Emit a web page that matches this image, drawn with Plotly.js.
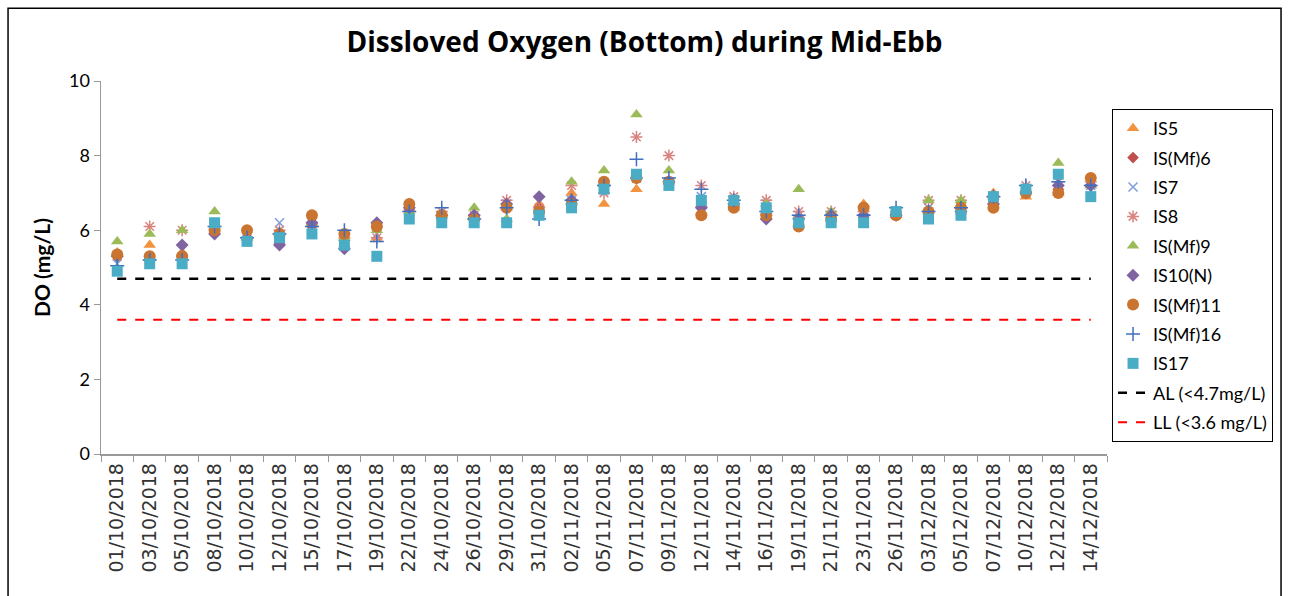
<!DOCTYPE html>
<html>
<head>
<meta charset="utf-8">
<script src="https://cdn.plot.ly/plotly-3.0.1.min.js"></script>
<style>html,body{margin:0;padding:0;background:#fff;}#chart{width:1289px;height:596px;}</style>
</head>
<body>
<div id="chart"></div>
<script>
const dates = ["01/10/2018","03/10/2018","05/10/2018","08/10/2018","10/10/2018","12/10/2018","15/10/2018","17/10/2018","19/10/2018","22/10/2018","24/10/2018","26/10/2018","29/10/2018","31/10/2018","02/11/2018","05/11/2018","07/11/2018","09/11/2018","12/11/2018","14/11/2018","16/11/2018","19/11/2018","21/11/2018","23/11/2018","26/11/2018","03/12/2018","05/12/2018","07/12/2018","10/12/2018","12/12/2018","14/12/2018"];

const IS5     = [5.4,5.6,5.4,6.1,5.8,5.9,6.2,5.8,5.8,6.6,6.4,6.4,6.6,6.7,7.0,6.7,7.1,7.3,6.5,6.6,6.5,6.4,6.3,6.7,6.4,6.5,6.5,7.0,6.9,7.0,7.2];
const ISMf6   = [5.3,5.2,5.3,5.95,5.8,5.65,6.1,5.55,6.1,6.5,6.3,6.35,6.6,6.6,6.8,7.2,7.4,7.3,6.6,6.7,6.3,6.3,6.4,6.4,6.4,6.5,6.5,6.7,7.0,7.1,7.2];
const IS7     = [5.1,5.2,5.2,6.1,5.8,6.2,6.1,5.8,5.9,6.5,6.4,6.3,6.7,6.5,6.8,7.1,7.4,7.3,6.9,6.8,6.7,6.4,6.4,6.4,6.5,6.6,6.6,6.8,7.1,7.3,7.2];
const IS8     = [5.3,6.1,6.0,6.1,5.8,6.0,6.2,5.8,5.8,6.5,6.5,6.4,6.8,6.6,7.2,7.0,8.5,8.0,7.2,6.9,6.8,6.5,6.5,6.5,6.5,6.8,6.8,6.9,7.2,7.3,7.3];
const ISMf9   = [5.7,5.9,6.0,6.5,5.8,5.95,6.2,5.8,6.0,6.5,6.4,6.6,6.3,6.5,7.3,7.6,9.1,7.6,6.7,6.7,6.7,7.1,6.5,6.4,6.5,6.8,6.8,6.9,7.1,7.8,7.2];
const IS10N   = [5.3,5.2,5.6,5.9,5.8,5.6,6.2,5.5,6.2,6.6,6.4,6.4,6.7,6.9,6.8,7.2,7.4,7.3,6.6,6.7,6.3,6.3,6.4,6.4,6.4,6.5,6.5,6.7,7.0,7.2,7.2];
const ISMf11  = [5.35,5.3,5.3,6.0,6.0,5.9,6.4,5.9,6.1,6.7,6.4,6.3,6.6,6.5,6.7,7.3,7.4,7.3,6.4,6.6,6.4,6.1,6.3,6.6,6.4,6.5,6.6,6.6,7.0,7.0,7.4];
const ISMf16  = [5.05,5.2,5.2,6.1,5.8,5.9,6.1,6.0,5.7,6.5,6.6,6.3,6.6,6.3,6.8,7.2,7.9,7.4,7.1,6.8,6.5,6.4,6.4,6.4,6.6,6.5,6.6,6.9,7.2,7.3,7.2];
const IS17    = [4.9,5.1,5.1,6.2,5.7,5.8,5.9,5.6,5.3,6.3,6.2,6.2,6.2,6.4,6.6,7.1,7.5,7.2,6.8,6.8,6.6,6.2,6.2,6.2,6.5,6.3,6.4,6.9,7.1,7.5,6.9];
const AL = dates.map(() => 4.7);
const LL = dates.map(() => 3.6);

const seriesNames = ["IS5","IS(Mf)6","IS7","IS8","IS(Mf)9","IS10(N)","IS(Mf)11","IS(Mf)16","IS17"];
const seriesData = [IS5, ISMf6, IS7, IS8, ISMf9, IS10N, ISMf11, ISMf16, IS17];
const seriesColors = ["#F3923F","#C0504D","#7E9FD6","#D98380","#9BBB59","#8064A2","#C97430","#3F6FBF","#4BACC6"];
const seriesSymbols = ["triangle-up","diamond","x-thin-open","asterisk-open","triangle-up","diamond","circle","cross-thin-open","square"];
const seriesSizes = [11,9,9,10,11,10,12,10,11];

const traces = seriesNames.map((n, i) => ({
  type: "scatter", mode: "markers", name: n, x: dates, y: seriesData[i],
  legendgroup: "g" + i,
  marker: {symbol: seriesSymbols[i], size: seriesSizes[i], color: seriesColors[i],
           line: {color: seriesColors[i], width: (seriesSymbols[i].indexOf("open") >= 0) ? 1.5 : 0}}
}));
traces.push({type: "scatter", mode: "lines", name: "AL (<4.7mg/L)", x: dates, y: AL, legendgroup: "gAL",
  line: {color: "#000000", width: 2.5, dash: "dash"}});
traces.push({type: "scatter", mode: "lines", name: "LL (<3.6 mg/L)", x: dates, y: LL, legendgroup: "gLL",
  line: {color: "#FF0000", width: 2, dash: "dash"}});

const layout = {
  width: 1289, height: 596,
  margin: {l: 101, r: 182, t: 81, b: 142},
  paper_bgcolor: "#ffffff", plot_bgcolor: "#ffffff",
  font: {family: "Lato, 'Open Sans', sans-serif", color: "#000"},
  title: {text: "<b>Dissloved Oxygen (Bottom) during Mid-Ebb</b>", x: 0.5, xref: "container", xanchor: "center",
          y: 0.93, yref: "container", yanchor: "middle",
          font: {size: 28, family: "'Open Sans', sans-serif", color: "#000"}},
  xaxis: {type: "category", range: [-0.5, 30.5], autorange: false, tickangle: -90, showgrid: false, zeroline: false,
          showline: true, linecolor: "#999", linewidth: 1.5,
          ticks: "outside", tickson: "boundaries", ticklen: 6, tickcolor: "#999",
          tickfont: {size: 19, family: "'DejaVu Sans', sans-serif", color: "#333"}},
  yaxis: {range: [0, 10], dtick: 2, showgrid: false, zeroline: false,
          showline: true, linecolor: "#999", linewidth: 1.5,
          ticks: "outside", ticklen: 6, tickcolor: "#999",
          tickfont: {size: 18, family: "Lato, sans-serif", color: "#000"},
          title: {text: "<b>DO (mg/L)</b>", standoff: 12, font: {size: 21, family: "Lato, sans-serif", color: "#000"}}},
  legend: {x: 1.005, xanchor: "left", y: 0.925, yanchor: "top",
           bordercolor: "#000", borderwidth: 1, bgcolor: "#fff",
           font: {size: 18, family: "Lato, sans-serif", color: "#000"},
           tracegroupgap: 3, traceorder: "grouped", itemwidth: 30},
  showlegend: true,
  shapes: [{type: "rect", xref: "paper", yref: "paper", x0: -0.0924, x1: 1.173, y0: 1.195, y1: -0.42,
            line: {color: "#000", width: 1.5}, fillcolor: "rgba(0,0,0,0)", layer: "below"}]
};

Plotly.newPlot("chart", traces, layout, {displayModeBar: false, staticPlot: true});
</script>
</body>
</html>
